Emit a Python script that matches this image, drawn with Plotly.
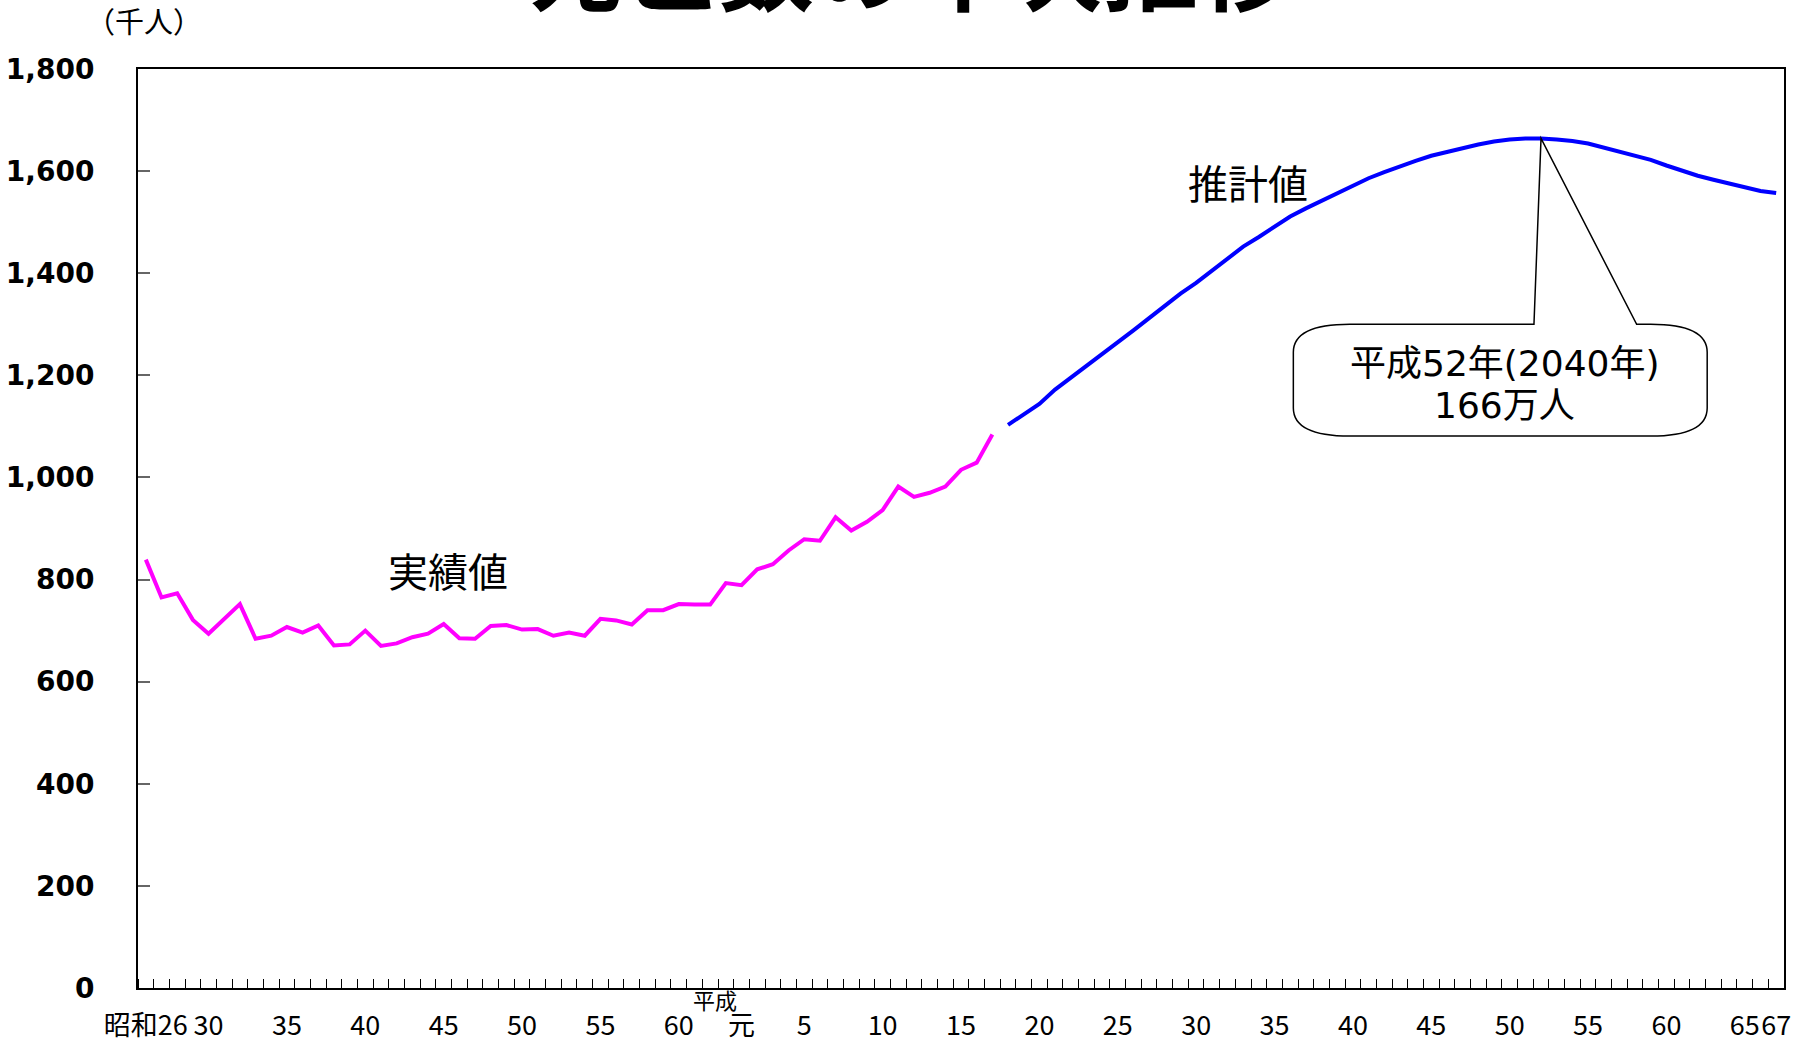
import plotly.graph_objects as go

# ---- data (thousands of deaths) ----
actual_years = list(range(1951, 2006))
actual_values = [839, 765, 773, 721, 694, 724, 752, 684, 690, 707,
                 696, 710, 671, 673, 700, 670, 675, 687, 694, 713,
                 685, 684, 709, 711, 702, 703, 690, 696, 690, 723,
                 720, 712, 740, 740, 752, 751, 751, 793, 789, 820,
                 830, 857, 879, 876, 922, 896, 913, 936, 982, 962,
                 970, 982, 1015, 1029, 1084]

proj_years = list(range(2006, 2056))
proj_values = [1103, 1124, 1144, 1172, 1195, 1217, 1240, 1263, 1288, 1312,
               1337, 1360, 1381, 1405, 1429, 1452, 1471, 1490, 1511, 1527,
               1542, 1558, 1572, 1586, 1598, 1610, 1620, 1630, 1638, 1646,
               1652, 1658, 1662, 1664, 1664, 1662, 1659, 1654, 1646, 1638,
               1630, 1622, 1611, 1600, 1591, 1583, 1576, 1568, 1561, 1557]

tick_years = [1951, 1955, 1960, 1965, 1970, 1975, 1980, 1985, 1989, 1993,
              1998, 2003, 2008, 2013, 2018, 2023, 2028, 2033, 2038, 2043,
              2048, 2053, 2055]
tick_labels = ["昭和26", "30", "35", "40", "45", "50", "55", "60", "元", "5",
               "10", "15", "20", "25", "30", "35", "40", "45", "50", "55",
               "60", "65", "67"]

peak_year = 2040
peak_value = proj_values[proj_years.index(peak_year)]

CJK = "Noto Sans CJK JP"
WIDE = "DejaVu Sans, Noto Sans CJK JP"
NARROW = "Liberation Sans Narrow, Arial Narrow, Noto Sans CJK JP"

fig = go.Figure()
fig.add_trace(go.Scatter(x=actual_years, y=actual_values, mode="lines",
                         line=dict(color="#FF00FF", width=4), showlegend=False))
fig.add_trace(go.Scatter(x=proj_years, y=proj_values, mode="lines",
                         line=dict(color="#0000FF", width=4), showlegend=False))

# callout bubble
x0, x1, y0, y1 = 2024.2, 2050.6, 1081, 1300
rx, ry = 3.6, 55
bl, br = 2039.55, 2046.1
path = (f"M {x0+rx},{y1} L {bl},{y1} L {peak_year},{peak_value} L {br},{y1} "
        f"L {x1-rx},{y1} Q {x1},{y1} {x1},{y1-ry} L {x1},{y0+ry} "
        f"Q {x1},{y0} {x1-rx},{y0} L {x0+rx},{y0} Q {x0},{y0} {x0},{y0+ry} "
        f"L {x0},{y1-ry} Q {x0},{y1} {x0+rx},{y1} Z")
fig.add_shape(type="path", path=path, xref="x", yref="y",
              line=dict(color="black", width=1.5), fillcolor="white", layer="above")

annots = [
    dict(x=1970.3, y=819, text="実績値", font=dict(size=40, family=CJK, color="black")),
    dict(x=2021.3, y=1578, text="推計値", font=dict(size=40, family=CJK, color="black")),
    dict(x=2037.7, y=1223, text="平成52年(2040年)", font=dict(size=36, family=WIDE, color="black")),
    dict(x=2037.7, y=1140, text="166万人", font=dict(size=36, family=WIDE, color="black")),
]
for a in annots:
    fig.add_annotation(xref="x", yref="y", showarrow=False, **a)

fig.add_annotation(xref="x", yref="paper", x=1987.3, y=0, yanchor="middle",
                   yshift=-11, text="平成", showarrow=False,
                   font=dict(size=22, family=CJK, color="black"))
fig.add_annotation(xref="paper", yref="paper", x=0.0036, xanchor="center", y=1,
                   yanchor="middle", yshift=49, text="（千人）", showarrow=False,
                   font=dict(size=29, family=CJK, color="black"))
fig.add_annotation(xref="paper", yref="paper", x=0.469, xanchor="center", y=1,
                   yanchor="bottom", yshift=36, text="<b>死亡数の年次推移</b>",
                   showarrow=False, font=dict(size=96, family=CJK, color="black"))

fig.update_xaxes(range=[1950.5, 2055.5], tickmode="array", tickvals=tick_years,
                 ticktext=tick_labels, ticks="", showgrid=False, zeroline=False,
                 showline=True, linecolor="black", linewidth=2, mirror=True,
                 tickangle=0, automargin=False,
                 tickfont=dict(size=27, family=NARROW, color="black"),
                 ticklabelstandoff=13,
                 minor=dict(tick0=1950.5, dtick=1, ticks="inside", ticklen=9,
                            tickwidth=1, tickcolor="black", showgrid=False))
fig.update_yaxes(range=[0, 1800], dtick=200, tickformat=",", ticks="inside",
                 ticklen=12, tickwidth=2, tickcolor="#666666", showgrid=False,
                 zeroline=False, showline=True, linecolor="black", linewidth=2,
                 mirror=True, ticklabelstandoff=36, automargin=False,
                 tickfont=dict(size=28, family="DejaVu Sans", color="black",
                               weight="bold"))

fig.update_layout(width=1808, height=1044,
                  margin=dict(l=138, r=24, t=69, b=56),
                  paper_bgcolor="white", plot_bgcolor="white",
                  showlegend=False)

fig.write_html("out.html", config={"displayModeBar": False},
               post_script="document.body.style.margin='0';document.body.style.padding='0';")
